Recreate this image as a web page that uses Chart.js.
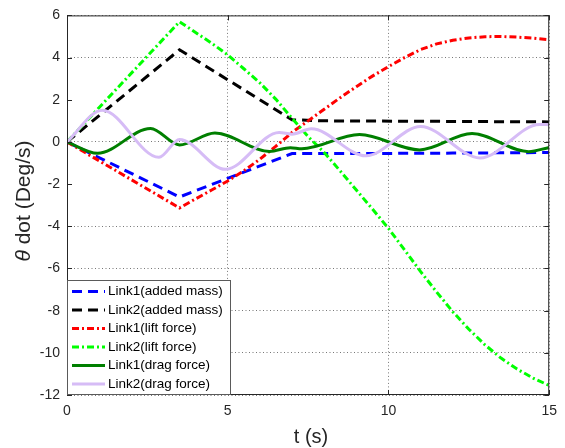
<!DOCTYPE html>
<html>
<head>
<meta charset="utf-8">
<script src="https://cdn.jsdelivr.net/npm/chart.js@4.4.0/dist/chart.umd.min.js"></script>
<style>
  html, body { margin: 0; padding: 0; background: #fff; }
</style>
</head>
<body>
<canvas id="chart" width="565" height="448"></canvas>
<script>
// time samples (s) and angular velocity values (deg/s)
const tLink1Added = [0, 3.5, 7.0, 9, 12, 15];
const link1Added = [0, -2.61, -0.55, -0.55, -0.53, -0.5];

const tLink2Added = [0, 3.5, 7.0, 8, 11, 15];
const link2Added = [0, 4.37, 1.05, 1.0, 0.98, 0.95];

const tLift = [0, 3.5, 4, 4.5, 5, 5.5, 6, 6.5, 7, 7.5, 8, 8.5, 9, 9.5, 10, 10.5, 11, 11.5, 12, 12.5, 13, 13.5, 14, 14.5, 15];
const link1Lift = [0, -3.13, -2.7, -2.28, -1.85, -1.37, -0.82, -0.2, 0.45, 1.0, 1.55, 2.1, 2.62, 3.12, 3.57, 4.0, 4.38, 4.65, 4.82, 4.93, 4.99, 5.0, 4.97, 4.92, 4.84];
const link2Lift = [0, 5.7, 5.19, 4.68, 4.13, 3.47, 2.8, 2.02, 1.12, 0.25, -0.5, -1.38, -2.28, -3.18, -4.1, -5.12, -6.15, -7.12, -8.05, -8.88, -9.62, -10.25, -10.77, -11.2, -11.55];

const tDrag1 = [0, 0.95, 2.6, 3.5, 4.6, 6.3, 6.95, 7.3, 9.1, 10.97, 12.6, 14.36, 15];
const link1Drag = [0, -0.54, 0.64, -0.14, 0.42, -0.45, -0.27, -0.32, 0.35, -0.38, 0.4, -0.46, -0.26];

const tDrag2 = [0, 1.1, 2.86, 3.5, 4.93, 6.6, 7.0, 7.6, 9.3, 11.0, 12.85, 14.7, 15];
const link2Drag = [0, 1.5, -0.73, 0.12, -1.3, 0.45, 0.37, 0.62, -0.66, 0.73, -0.76, 0.83, 0.82];

const xTicks = [0, 5, 10, 15];
const yTicks = [6, 4, 2, 0, -2, -4, -6, -8, -10, -12];
const hiddenGrid = [2, -2]; // these grid lines don't show in the original

const FONT = '"Liberation Sans", Arial, sans-serif';
const INK = '#262626';

const pts = (ts, vs) => ts.map((t, i) => ({ x: t, y: vs[i] }));

// box, inward ticks, legend and axis titles (matlab-ish look)
const framePlugin = {
  id: 'frame',
  afterDraw(chart) {
    const { ctx, chartArea: a, scales: { x, y } } = chart;
    ctx.save();

    ctx.strokeStyle = INK;
    ctx.lineWidth = 1;
    ctx.setLineDash([]);
    ctx.beginPath();
    xTicks.forEach(v => {
      const px = Math.round(x.getPixelForValue(v)) + 0.5;
      ctx.moveTo(px, a.bottom); ctx.lineTo(px, a.bottom - 5);
      ctx.moveTo(px, a.top); ctx.lineTo(px, a.top + 5);
    });
    yTicks.forEach(v => {
      const py = Math.round(y.getPixelForValue(v)) + 0.5;
      ctx.moveTo(a.left, py); ctx.lineTo(a.left + 5, py);
      ctx.moveTo(a.right, py); ctx.lineTo(a.right - 5, py);
    });
    ctx.stroke();
    ctx.strokeRect(a.left + 0.5, a.top + 0.5, a.right - a.left - 1, a.bottom - a.top - 1);

    // legend
    const lx = a.left + 0.5, ly = 280.5, lw = 163, lh = a.bottom - 281;
    ctx.fillStyle = '#fff';
    ctx.fillRect(lx, ly, lw, lh);
    ctx.strokeStyle = '#5a5a5a';
    ctx.strokeRect(lx, ly, lw, lh);
    ctx.font = '13.5px ' + FONT;
    ctx.textBaseline = 'middle';
    ctx.textAlign = 'left';
    chart.data.datasets.forEach((ds, i) => {
      const cy = 291.5 + i * 18.5;
      ctx.save();
      ctx.strokeStyle = ds.borderColor;
      ctx.lineWidth = ds.borderWidth;
      ctx.setLineDash(ds.borderDash || []);
      ctx.beginPath();
      ctx.moveTo(72, cy); ctx.lineTo(105, cy);
      ctx.stroke();
      ctx.restore();
      ctx.fillStyle = '#000';
      ctx.fillText(ds.label, 108, cy);
    });

    // axis titles
    ctx.fillStyle = INK;
    ctx.font = '20px ' + FONT;
    ctx.textAlign = 'center';
    ctx.fillText('t (s)', 311, 437);

    ctx.translate(24, 201);
    ctx.rotate(-Math.PI / 2);
    const rest = ' dot (Deg/s)';
    ctx.font = 'italic 21px ' + FONT;
    const wTheta = ctx.measureText('θ').width;
    ctx.font = '21px ' + FONT;
    const wRest = ctx.measureText(rest).width;
    const start = -(wTheta + wRest) / 2;
    ctx.textAlign = 'left';
    ctx.font = 'italic 21px ' + FONT;
    ctx.fillText('θ', start, 0);
    ctx.font = '21px ' + FONT;
    ctx.fillText(rest, start + wTheta, 0);

    ctx.restore();
  }
};

const gridColor = c => (c.tick && hiddenGrid.includes(c.tick.value)) ? 'rgba(0,0,0,0)' : '#777';

new Chart(document.getElementById('chart'), {
  type: 'line',
  data: {
    datasets: [
      { label: 'Link1(added mass)', data: pts(tLink1Added, link1Added), borderColor: '#0000ff', borderWidth: 3, borderDash: [10, 6], tension: 0, order: 6 },
      { label: 'Link2(added mass)', data: pts(tLink2Added, link2Added), borderColor: '#000000', borderWidth: 3, borderDash: [10, 6], tension: 0, order: 5 },
      { label: 'Link1(lift force)', data: pts(tLift, link1Lift), borderColor: '#ff0000', borderWidth: 3, borderDash: [7, 3, 2, 3], tension: 0, order: 4 },
      { label: 'Link2(lift force)', data: pts(tLift, link2Lift), borderColor: '#00ff00', borderWidth: 3, borderDash: [7, 3, 2, 3], tension: 0, order: 3 },
      { label: 'Link1(drag force)', data: pts(tDrag1, link1Drag), borderColor: '#007f00', borderWidth: 3, cubicInterpolationMode: 'monotone', order: 2 },
      { label: 'Link2(drag force)', data: pts(tDrag2, link2Drag), borderColor: 'rgb(214,188,246)', borderWidth: 3, cubicInterpolationMode: 'monotone', order: 1 }
    ]
  },
  options: {
    responsive: false,
    animation: false,
    layout: { padding: { left: 0, top: 12, right: 11, bottom: 0 } },
    elements: { point: { radius: 0 }, line: { borderCapStyle: 'butt', fill: false } },
    plugins: { legend: { display: false }, tooltip: { enabled: false } },
    scales: {
      x: {
        type: 'linear', min: 0, max: 15,
        afterFit: s => { s.height = 53; },
        afterBuildTicks: s => { s.ticks = xTicks.map(v => ({ value: v })); },
        ticks: { color: INK, padding: 8, maxRotation: 0, font: { family: FONT, size: 14 } },
        grid: { color: gridColor, drawTicks: false, lineWidth: 1 },
        border: { display: false, dash: [1, 2.5] }
      },
      y: {
        type: 'linear', min: -12, max: 6,
        afterFit: s => { s.width = 67; },
        afterBuildTicks: s => { s.ticks = yTicks.map(v => ({ value: v })); },
        ticks: { color: INK, padding: 7, font: { family: FONT, size: 14 } },
        grid: { color: gridColor, drawTicks: false, lineWidth: 1 },
        border: { display: false, dash: [1, 2.5] }
      }
    }
  },
  plugins: [framePlugin]
});
</script>
</body>
</html>
